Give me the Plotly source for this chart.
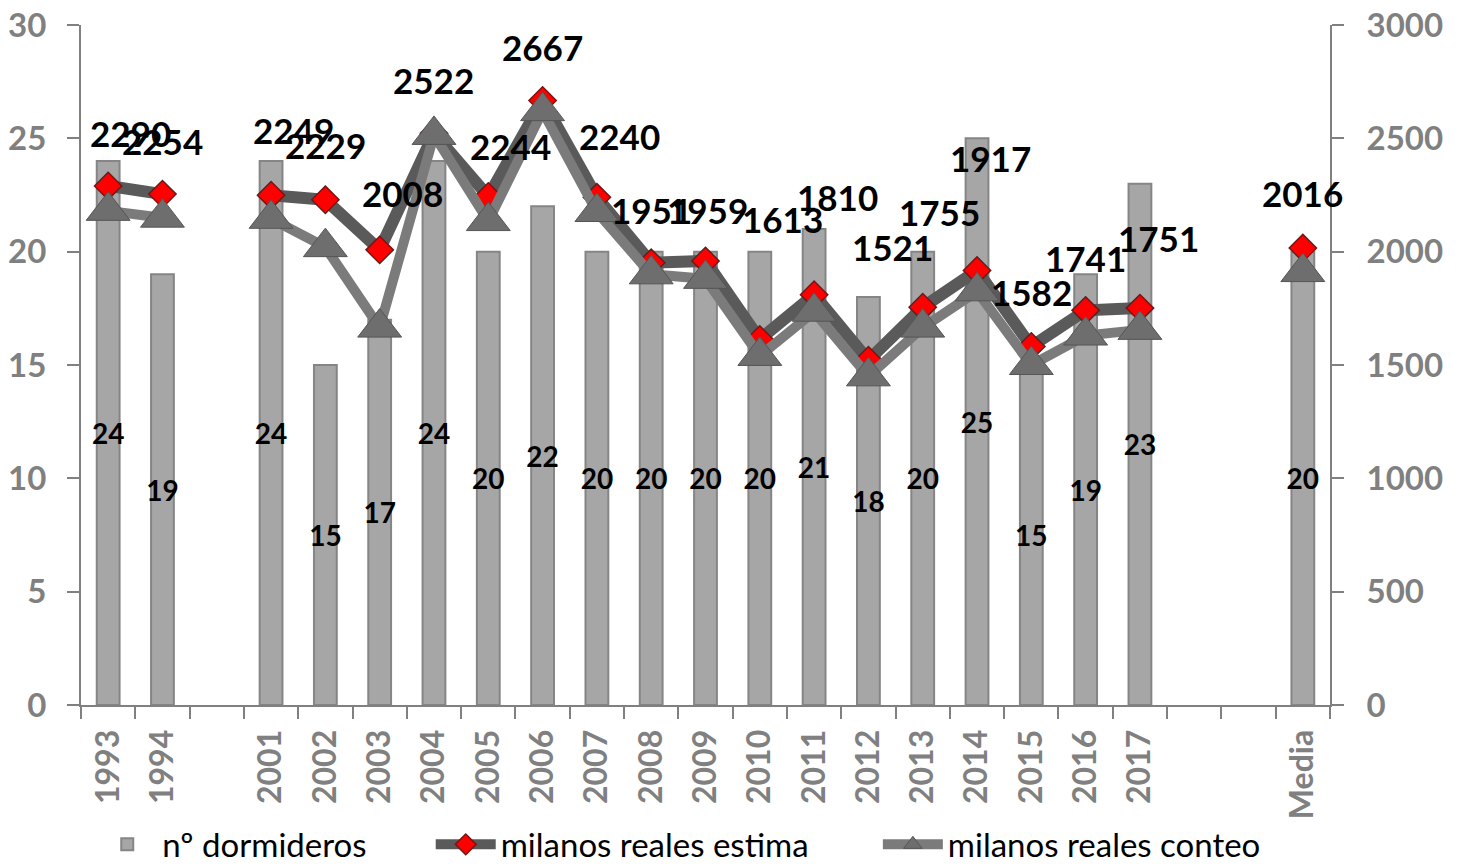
import plotly.graph_objects as go

# ---- data ----
categories = ["1993", "1994", "", "2001", "2002", "2003", "2004", "2005", "2006",
              "2007", "2008", "2009", "2010", "2011", "2012", "2013", "2014",
              "2015", "2016", "2017", "", "", "Media"]
dormideros = [24, 19, None, 24, 15, 17, 24, 20, 22, 20, 20, 20, 20, 21, 18, 20, 25,
              15, 19, 23, None, None, 20]
estima = [2290, 2254, None, 2249, 2229, 2008, 2522, 2244, 2667, 2240, 1951, 1959,
          1613, 1810, 1521, 1755, 1917, 1582, 1741, 1751, None, None, 2016]
conteo = [2180, 2150, None, 2145, 2020, 1665, 2515, 2135, 2620, 2175, 1900, 1880,
          1540, 1735, 1450, 1665, 1825, 1500, 1630, 1655, None, None, 1910]

series_names = ["nº dormideros", "milanos reales estima", "milanos reales conteo"]

# label pixel offsets (style only): (dx, dy)
label_dx = [22, 0, 0, 22, 0, 23, 0, 22, 0, 23, 0, 2, 23, 23, 24, 17, 13, 0, 0, 19, 0, 0, 0]
label_dy = [53, 53, 0, 65, 55, 57, 53, 50, 53, 61, 53, 51, 120, 98, 113, 95, 112, 54, 52, 70, 0, 0, 55]

FONT = "Lato"
GRAY = "#808080"

# category slots (index positions derived from the category list)
xpos = list(range(len(categories)))
boundaries = [i - 0.5 for i in range(len(categories) + 1)]

fig = go.Figure()

fig.add_trace(go.Bar(
    x=xpos, y=dormideros, name=series_names[0],
    width=0.42,
    marker=dict(color="#a6a6a6", line=dict(color="#858585", width=2)),
    text=[("" if v is None else str(v)) for v in dormideros],
    textposition="inside", insidetextanchor="middle", constraintext="none",
    textfont=dict(family=FONT, size=28, color="black", weight="bold"),
    textangle=0,
    legend="legend",
))

fig.add_trace(go.Scatter(
    x=xpos, y=estima, name=series_names[1], yaxis="y2",
    mode="lines+markers", connectgaps=False,
    line=dict(color="#5a5a5a", width=12),
    marker=dict(symbol="diamond", size=21, color="#ff0000",
                line=dict(color="#6b1a1a", width=1.5)),
    legend="legend2",
))

fig.add_trace(go.Scatter(
    x=xpos, y=conteo, name=series_names[2], yaxis="y2",
    mode="lines+markers", connectgaps=False,
    line=dict(color="#7b7b7b", width=10),
    marker=dict(symbol="triangle-up", size=38, color="#6e6e6e",
                line=dict(color="#555555", width=1)),
    legend="legend3",
))

annotations = []
for i, v in enumerate(estima):
    if v is None:
        continue
    annotations.append(dict(
        x=xpos[i], y=v, xref="x", yref="y2", text=str(v), showarrow=False,
        xshift=label_dx[i], yshift=label_dy[i],
        font=dict(family=FONT, size=35, color="black", weight="bold"),
    ))

legend_common = dict(
    orientation="h", yanchor="middle", y=-0.205, xanchor="left",
    font=dict(family=FONT, size=33, color="black"),
    bgcolor="rgba(0,0,0,0)", itemwidth=60, borderwidth=0,
)

fig.update_layout(
    width=1452, height=859,
    margin=dict(l=73, r=130, t=17, b=162, autoexpand=False),
    paper_bgcolor="white", plot_bgcolor="white",
    font=dict(family=FONT),
    showlegend=True,
    xaxis=dict(
        range=[-0.5, len(categories) - 0.5], automargin=False,
        tickmode="array", tickvals=xpos, ticktext=categories,
        ticks="", showline=True, linecolor=GRAY, linewidth=2,
        tickangle=-90, showgrid=False, zeroline=False,
        tickfont=dict(family=FONT, size=32, color=GRAY, weight="bold"),
        ticklabelstandoff=10, ticklabeloverflow="allow",
        minor=dict(tickmode="array", tickvals=boundaries, ticks="outside",
                   ticklen=12, tickwidth=2, tickcolor=GRAY, showgrid=False),
    ),
    yaxis=dict(
        range=[0, 30], dtick=5, ticks="outside", ticklen=12, tickwidth=2,
        tickcolor=GRAY, showline=True, linecolor=GRAY, linewidth=2,
        showgrid=False, zeroline=False, automargin=False,
        tickfont=dict(family=FONT, size=33, color=GRAY, weight="bold"),
        ticklabelstandoff=14, ticklabeloverflow="allow",
    ),
    yaxis2=dict(
        range=[0, 3000], dtick=500, overlaying="y", side="right",
        ticks="outside", ticklen=12, tickwidth=2, automargin=False,
        tickcolor=GRAY, showline=True, linecolor=GRAY, linewidth=2,
        showgrid=False, zeroline=False,
        tickfont=dict(family=FONT, size=33, color=GRAY, weight="bold"),
        ticklabelstandoff=16, ticklabeloverflow="allow",
    ),
    legend=dict(legend_common, x=0.009),
    legend2=dict(legend_common, x=0.280),
    legend3=dict(legend_common, x=0.638),
    annotations=annotations,
)

fig.write_html("out.html")
